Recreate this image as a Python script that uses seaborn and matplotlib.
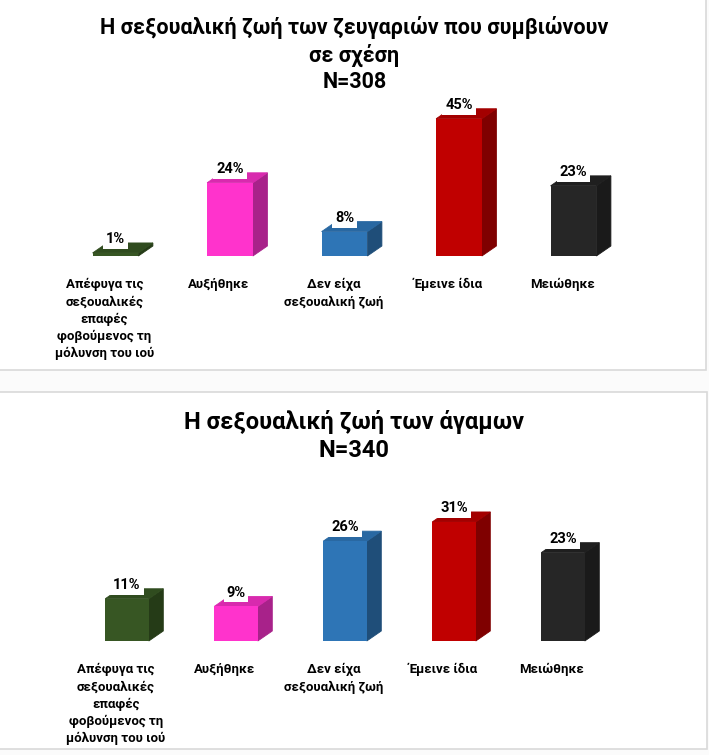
import matplotlib
matplotlib.use("Agg")
import matplotlib.pyplot as plt
from matplotlib.patches import Polygon, Rectangle
import seaborn as sns
import pandas as pd

# chart data
categories = ["Απέφυγα τις\nσεξουαλικές\nεπαφές\nφοβούμενος τη\nμόλυνση του ιού",
              "Αυξήθηκε", "Δεν είχα\nσεξουαλική ζωή", "Έμεινε ίδια", "Μειώθηκε"]
couples_pct = [1, 24, 8, 45, 23]
singles_pct = [11, 9, 26, 31, 23]
couples_title = "Η σεξουαλική ζωή των ζευγαριών που συμβιώνουν\nσε σχέση\nN=308"
singles_title = "Η σεξουαλική ζωή των άγαμων\nN=340"

front_colors = ["#375623", "#FF33CC", "#2E75B6", "#C00000", "#262626"]
side_colors = ["#253B17", "#A8228A", "#1F4E79", "#7F0000", "#1A1A1A"]
top_colors = ["#304C1F", "#D82AAE", "#2968A2", "#A30000", "#1F1F1F"]

sns.set_style("white")
plt.rcParams["font.family"] = ["Roboto", "DejaVu Sans"]
plt.rcParams["text.color"] = "black"

W, H, DPI = 709, 755, 100
fig = plt.figure(figsize=(W / DPI, H / DPI), dpi=DPI, facecolor="#fbfbfb")

# panel frames (figure fraction, measured from the bottom), behind the axes
fig.patches.append(Rectangle((-0.01, (H - 370) / H), 706 / W + 0.01, 370 / H + 0.01,
                             transform=fig.transFigure, fc="white", ec="#d9d9d9",
                             lw=1.2, zorder=-5))
fig.patches.append(Rectangle((-0.01, (H - 749) / H), 707 / W + 0.01, (749 - 392) / H,
                             transform=fig.transFigure, fc="white", ec="#d9d9d9",
                             lw=1.2, zorder=-5))


def draw_panel(rect, values, ymax, title, title_y, title_size):
    ax = fig.add_axes(rect)
    ax.patch.set_alpha(0)
    df = pd.DataFrame({"cat": categories, "pct": values})
    sns.barplot(data=df, x="cat", y="pct", hue="cat", palette=front_colors,
                width=0.4, legend=False, ax=ax, saturation=1, zorder=3,
                edgecolor="none", linewidth=0)
    ax.set_xlim(-0.5, 4.5)
    ax.set_ylim(0, ymax)
    ax.set_xlabel("")
    ax.set_ylabel("")
    ax.set_yticks([])
    for s in ax.spines.values():
        s.set_visible(False)

    # pixel -> data conversion for the 3D depth
    ax_w = rect[2] * W
    ax_h = rect[3] * H
    dx = 14.5 * 5.0 / ax_w
    dy = 10.0 * ymax / ax_h

    for i, p in enumerate(list(ax.patches)):
        x0 = p.get_x()
        x1 = x0 + p.get_width()
        h = p.get_height()
        side = Polygon([(x1, 0), (x1, h), (x1 + dx, h + dy), (x1 + dx, dy)],
                       closed=True, fc=side_colors[i], ec=side_colors[i], lw=0.6,
                       zorder=2.9, clip_on=False)
        top = Polygon([(x0, h), (x1, h), (x1 + dx, h + dy), (x0 + dx, h + dy)],
                      closed=True, fc=top_colors[i], ec=top_colors[i], lw=0.6,
                      zorder=2.9, clip_on=False)
        ax.add_patch(side)
        ax.add_patch(top)
        ax.annotate(f"{values[i]}%", xy=(p.get_x() + p.get_width() / 2, h),
                    xytext=(0, 10), textcoords="offset points", ha="center", va="center",
                    fontsize=10.5, fontweight="bold", color="black", zorder=5,
                    bbox=dict(boxstyle="square,pad=0.2", fc="white", ec="none"))

    shift = 11 * 5.0 / ax_w
    ax.set_xticks([i - shift for i in range(len(categories))])
    ax.set_xticklabels(categories, fontsize=9.5, fontweight="bold", linespacing=1.4,
                       color="black")
    ax.tick_params(axis="x", length=0, pad=16)

    fig.text(0.5, title_y, title, ha="center", va="center", fontsize=title_size,
             fontweight="bold", linespacing=1.25, color="black")
    return ax


# top panel: couples living together
draw_panel([58.25 / W, (H - 256) / H, 572.5 / W, 152.5 / H], couples_pct, 50,
           couples_title, 1 - 54.5 / H, 15.5)

# bottom panel: singles
draw_panel([72.5 / W, (H - 641) / H, 545 / W, 134.4 / H], singles_pct, 35,
           singles_title, 1 - 436 / H, 17)

fig.savefig("out.png", dpi=DPI, facecolor=fig.get_facecolor())
